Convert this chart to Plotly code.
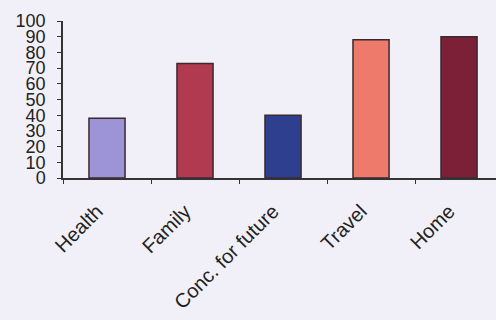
import plotly.graph_objects as go

categories = ["Health", "Family", "Conc. for future", "Travel", "Home"]
values = [38, 73, 40, 88, 90]
bar_colors = ["#9C94D6", "#B23A50", "#2F3F8F", "#EE7A6C", "#7B2036"]

_BG = "#F1F0F8"
_AXIS = "#333333"
_FONT = "Liberation Sans, Arial, sans-serif"

fig = go.Figure(go.Bar(
    x=categories, y=values,
    width=0.41,
    marker=dict(color=bar_colors, line=dict(color="#3A2A2E", width=1.5)),
    showlegend=False,
))

fig.update_layout(
    width=496, height=320,
    paper_bgcolor=_BG, plot_bgcolor=_BG,
    font=dict(family=_FONT, color="#222222"),
    margin=dict(l=63, r=0, t=21, b=142, autoexpand=False),
)
fig.update_xaxes(
    range=[-0.5, 4.42], automargin=False,
    showline=True, linecolor=_AXIS, linewidth=1.5,
    ticks="outside", tickson="boundaries", ticklen=4, tickcolor=_AXIS,
    tickangle=-45, tickfont=dict(size=20),
    ticklabelstandoff=12, ticklabelshift=-10,
    showgrid=False, zeroline=False,
)
fig.update_yaxes(
    range=[0, 100], dtick=10, automargin=False,
    showline=True, linecolor=_AXIS, linewidth=1.5,
    ticks="outside", ticklen=4, tickcolor=_AXIS,
    tickfont=dict(size=18), ticklabelstandoff=8,
    showgrid=False, zeroline=False,
)

# drop the default 8px body margin so the figure sits at the window corner
fig.write_html("out.html", config={"displayModeBar": False},
               post_script="document.body.style.margin='0';")
